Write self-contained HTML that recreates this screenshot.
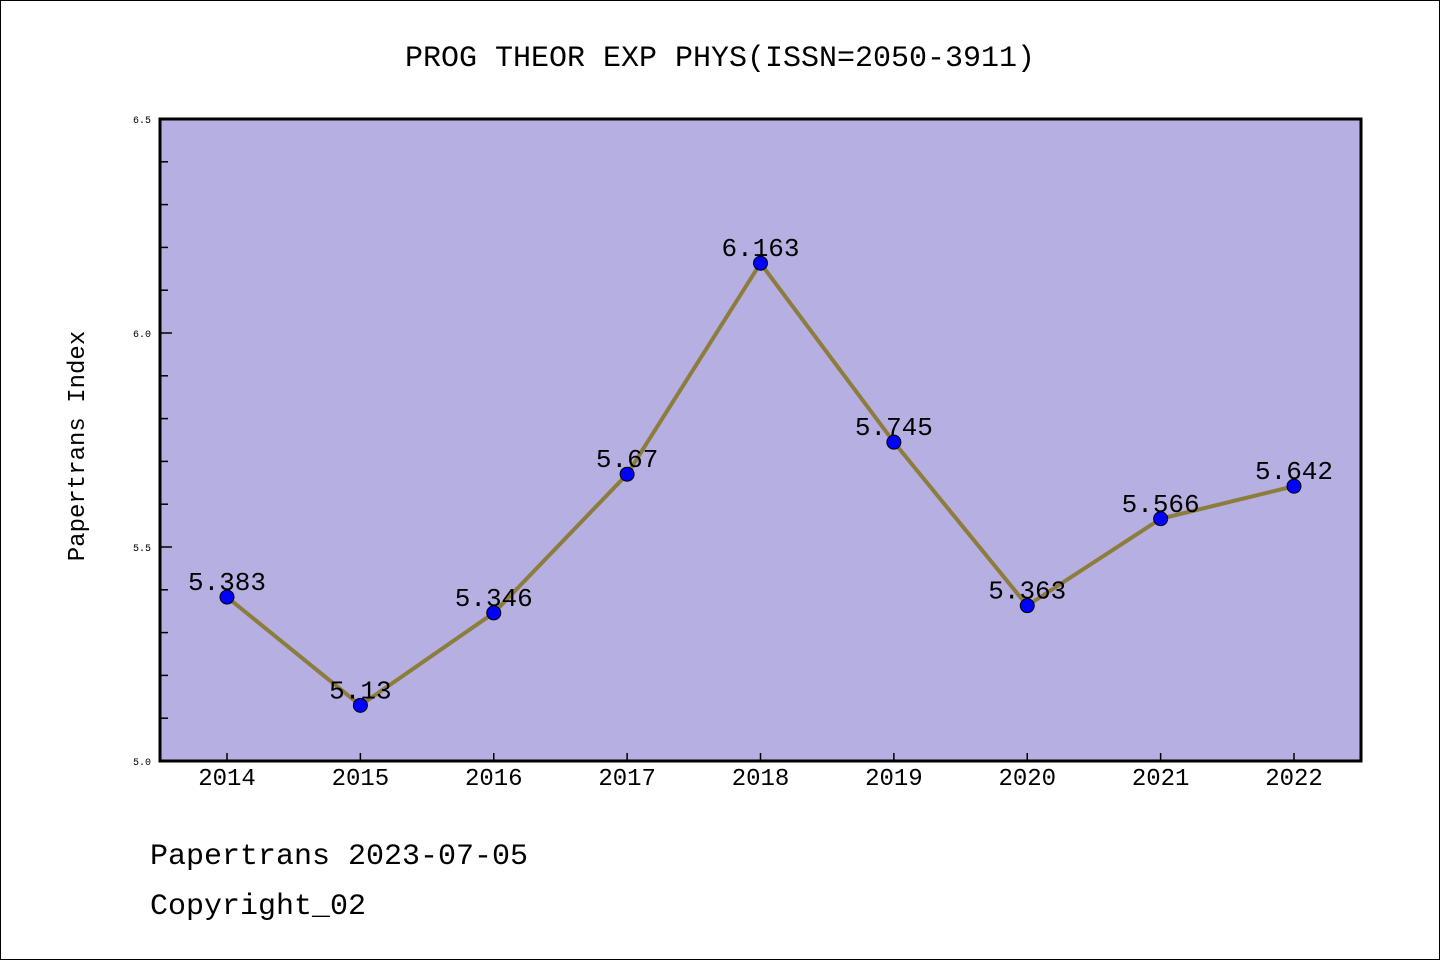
<!DOCTYPE html>
<html><head><meta charset="utf-8"><style>
body{margin:0;background:#fff}
svg text{font-family:"WenQuanYi Zen Hei","Liberation Mono",monospace}
</style></head><body>
<svg width="1440" height="960">
<rect x="0.5" y="0.5" width="1439" height="959" fill="#fff" stroke="#000"/>
<text x="720" y="66" font-size="30" text-anchor="middle">PROG THEOR EXP PHYS(ISSN=2050-3911)</text>
<rect x="160" y="119" width="1201" height="642" fill="#b5afe2"/>
<g id="axes"></g>
<g id="marks"></g>
<rect x="160" y="119" width="1201" height="642" fill="none" stroke="#000" stroke-width="3"/>
<text transform="translate(84,446) rotate(-90)" font-size="24" text-anchor="middle">Papertrans Index</text>
<text x="150" y="864" font-size="30">Papertrans 2023-07-05</text>
<text x="150" y="914" font-size="30">Copyright_02</text>
</svg>
<script>
const years=["2014","2015","2016","2017","2018","2019","2020","2021","2022"];
const values=[5.383,5.13,5.346,5.67,6.163,5.745,5.363,5.566,5.642];
const valueLabels=["5.383","5.13","5.346","5.67","6.163","5.745","5.363","5.566","5.642"];
const yTicks=["5.0","5.5","6.0","6.5"];
const NS="http://www.w3.org/2000/svg";
const X=i=>227+i*(1294-227)/8;
const Y=v=>761-(v-5)*428;
function mk(t,a,p){const e=document.createElementNS(NS,t);for(const k in a)e.setAttribute(k,a[k]);p.appendChild(e);return e;}
const ax=document.getElementById('axes'),mg=document.getElementById('marks');
for(let k=0;k<=15;k++){const v=5+k*0.1,y=Y(v),major=k%5==0;
 const l=mk('line',{x1:160,x2:160+(major?12:8),y1:y,y2:y,stroke:'#000','stroke-width':1.5},ax);
 }
yTicks.forEach(s=>{const t=mk('text',{x:151,y:Y(+s)+4,'font-size':10,'text-anchor':'end'},ax);t.textContent=s;
 });
years.forEach((s,i)=>{const l=mk('line',{x1:X(i),x2:X(i),y1:761,y2:753,stroke:'#000','stroke-width':1.5},ax);
 
 const t=mk('text',{x:X(i),y:785,'font-size':24,'text-anchor':'middle'},ax);t.textContent=s;
 });
const pl=mk('polyline',{points:values.map((v,i)=>X(i)+','+Y(v)).join(' '),fill:'none',stroke:'#8c7d3c','stroke-width':4},mg);

values.forEach((v,i)=>{const c=mk('circle',{cx:X(i),cy:Y(v),r:7,fill:'#0000ff',stroke:'#000','stroke-width':1},mg);
 
 const t=mk('text',{x:X(i),y:Y(v)-7,'font-size':26,'text-anchor':'middle'},mg);t.textContent=valueLabels[i];
 });
</script>
</body></html>
